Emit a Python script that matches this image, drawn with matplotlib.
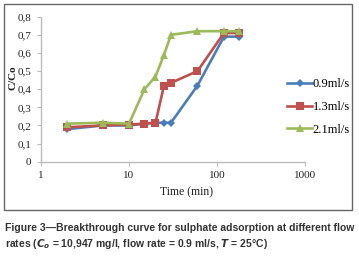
import matplotlib
matplotlib.use("Agg")
import matplotlib.pyplot as plt
from matplotlib.patches import Rectangle
from matplotlib.ticker import FixedLocator, FuncFormatter, NullLocator

time_min = [2, 5, 10, 15, 20, 25, 30, 60, 120, 180]
c_09 = [0.18, 0.20, 0.20, 0.21, 0.215, 0.215, 0.215, 0.42, 0.69, 0.69]
c_13 = [0.19, 0.20, 0.205, 0.21, 0.215, 0.42, 0.435, 0.50, 0.71, 0.71]
c_21 = [0.21, 0.215, 0.21, 0.40, 0.47, 0.59, 0.70, 0.72, 0.72, 0.72]
series_labels = ["0.9ml/s", "1.3ml/s", "2.1ml/s"]
x_ticks = [1, 10, 100, 1000]
y_ticks = [0, 0.1, 0.2, 0.3, 0.4, 0.5, 0.6, 0.7, 0.8]

W, H = 359, 258
fig = plt.figure(figsize=(W / 100, H / 100), dpi=100)
serif = ["Liberation Serif", "DejaVu Serif"]

# outer chart border
fig.patches.append(Rectangle((4 / W, 1 - 210 / H), 348 / W, 206 / H,
                             transform=fig.transFigure, fill=False,
                             edgecolor="#666666", linewidth=1.0))

ax = fig.add_axes([41 / W, 1 - 161.7 / H, (305 - 41) / W, (161.7 - 16.7) / H])
ax.set_xscale("log")
ax.set_xlim(1, 1000)
ax.set_ylim(0, 0.8)

colors = ["#4A7EBB", "#C0504D", "#9BBB59"]
markers = ["D", "s", "^"]
msizes = [4, 5.5, 6]
for ys, c, m, ms, lab in zip([c_09, c_13, c_21], colors, markers, msizes, series_labels):
    ax.plot(time_min, ys, color=c, marker=m, markersize=ms, linewidth=1.9,
            label=lab, markeredgewidth=0)

ax.xaxis.set_major_locator(FixedLocator(x_ticks))
ax.xaxis.set_minor_locator(NullLocator())
ax.xaxis.set_major_formatter(FuncFormatter(lambda v, p: f"{int(v)}"))
ax.yaxis.set_major_locator(FixedLocator(y_ticks))
ax.yaxis.set_major_formatter(FuncFormatter(lambda v, p: "0" if v == 0 else f"{v:.1f}".replace(".", ",")))

for s in ["top", "right"]:
    ax.spines[s].set_visible(False)
for s in ["left", "bottom"]:
    ax.spines[s].set_color("#BBBBBB")
    ax.spines[s].set_linewidth(1.0)
ax.tick_params(axis="both", direction="out", length=3, width=0.8, color="#BBBBBB",
               labelsize=8, labelcolor="#222222", pad=4)
for lbl in ax.get_xticklabels() + ax.get_yticklabels():
    lbl.set_family(serif)

fig.text(187 / W, 1 - 192 / H, "Time (min)", ha="center", va="center",
         fontsize=8.5, family=serif, color="#222222")
fig.text(12.5 / W, 1 - 78 / H, "C/Co", ha="center", va="center", rotation=90,
         fontsize=8, family=serif, fontweight="bold", color="#222222")

leg = fig.legend(loc="center left", bbox_to_anchor=(287 / W, 1 - 107 / H),
                 frameon=False, handlelength=2.0, handletextpad=0.05,
                 labelspacing=0.85, borderpad=0, borderaxespad=0,
                 prop={"family": serif, "size": 9})

cap_font = ["Liberation Sans Narrow", "Liberation Sans", "DejaVu Sans"]
fig.text(5 / W, 1 - 228 / H,
         "Figure 3\u2014Breakthrough curve for sulphate adsorption at different flow",
         ha="left", va="center", fontsize=7.45, fontweight="bold", family=cap_font,
         color="#333333")
fig.text(5 / W, 1 - 244 / H,
         "rates ($\\mathbfit{C}_{\\mathbfit{o}}$ = 10,947 mg/l, flow rate = 0.9 ml/s, $\\mathbfit{T}$ = 25\u00b0C)",
         ha="left", va="center", fontsize=7.45, fontweight="bold", family=cap_font,
         color="#333333")

fig.savefig("out.png", dpi=100)
